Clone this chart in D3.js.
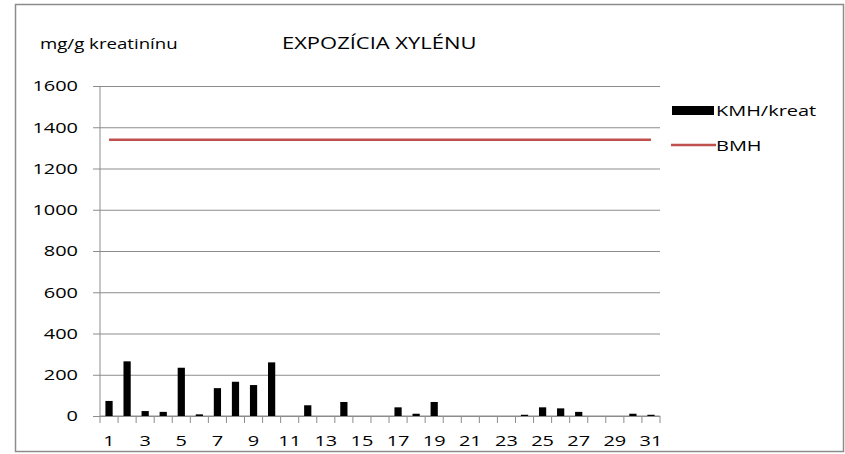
<!DOCTYPE html>
<html>
<head>
<meta charset="utf-8">
<script src="https://cdn.jsdelivr.net/npm/d3@7"></script>
<style>
  body { margin: 0; background: #fff; }
  text { font-family: "Open Sans", "Liberation Sans", sans-serif; fill: #000; }
</style>
</head>
<body>
<svg id="chart"></svg>
<script>
'use strict';

// days of the month
const days = d3.range(1, 32);
// KMH/kreat, mg/g kreatinínu
const kmh = [73, 265, 24, 20, 234, 8, 135, 166, 150, 260,
             0, 52, 0, 68, 0, 0, 42, 11, 68, 0,
             0, 0, 0, 6, 42, 37, 20, 0, 0, 11, 6];
// BMH limit
const bmh = 1340;
const yTicks = [0, 200, 400, 600, 800, 1000, 1200, 1400, 1600];

const W = 845, H = 454;
const margin = { top: 86, left: 100, bottom: 38, right: 185 };
const width = W - margin.left - margin.right;
const height = H - margin.top - margin.bottom;

// the original font is rendered wide, stretch text horizontally
const STRETCH = 1.33;
function stretch(sel) {
  sel.each(function() {
    const len = this.getComputedTextLength();
    d3.select(this)
        .attr('textLength', len * STRETCH)
        .attr('lengthAdjust', 'spacingAndGlyphs');
  });
}

const svg = d3.select('#chart')
    .attr('width', W)
    .attr('height', H);

// outer frame
svg.append('rect')
    .attr('x', 15.5).attr('y', 4.5)
    .attr('width', 828).attr('height', 447)
    .attr('fill', 'none')
    .attr('stroke', '#8c8c8c')
    .attr('stroke-width', 1.5);

const graph = svg.append('g')
    .attr('transform', `translate(${margin.left}, ${margin.top})`);

const x = d3.scaleBand()
    .domain(days)
    .range([0, width])
    .paddingInner(0.6)
    .paddingOuter(0.3);

const xPoint = d3.scalePoint()
    .domain(days)
    .range([0, width])
    .padding(0.5);

const y = d3.scaleLinear()
    .domain([0, 1600])
    .range([height, 0]);

// grid + y axis
const yAxis = d3.axisLeft(y)
    .tickValues(yTicks)
    .tickFormat(d3.format('d'))
    .tickSize(-width)
    .tickPadding(22);

const gy = graph.append('g')
    .attr('class', 'y-axis')
    .call(yAxis);
gy.select('.domain').remove();
gy.selectAll('.tick line')
    .attr('stroke', '#8c8c8c')
    .attr('x1', -7);
gy.selectAll('.tick text')
    .style('font-size', '15px')
    .call(stretch);

graph.append('line')
    .attr('x1', 0).attr('x2', 0)
    .attr('y1', 0).attr('y2', height)
    .attr('stroke', '#8c8c8c');

// x axis: ticks between categories, labels on odd days
const step = width / days.length;
const gx = graph.append('g')
    .attr('transform', `translate(0, ${height})`);
gx.append('line')
    .attr('x1', 0).attr('x2', width)
    .attr('stroke', '#8c8c8c');
gx.selectAll('line.tk')
    .data(d3.range(0, days.length + 1))
    .enter().append('line')
    .attr('class', 'tk')
    .attr('x1', d => d * step).attr('x2', d => d * step)
    .attr('y1', 0).attr('y2', 7)
    .attr('stroke', '#8c8c8c');
gx.selectAll('text')
    .data(days.filter(d => d % 2 === 1))
    .enter().append('text')
    .attr('x', d => xPoint(d))
    .attr('y', 30)
    .attr('text-anchor', 'middle')
    .style('font-size', '15px')
    .text(d => d)
    .call(stretch);

// bars
graph.append('g')
    .attr('fill', '#000')
    .selectAll('rect')
    .data(days)
    .enter().append('rect')
    .attr('x', d => xPoint(d) - x.bandwidth() / 2)
    .attr('y', (d, i) => y(kmh[i]))
    .attr('width', x.bandwidth())
    .attr('height', (d, i) => height - y(kmh[i]));

// BMH line
const line = d3.line()
    .x(d => xPoint(d))
    .y(() => y(bmh));
graph.append('path')
    .datum(days)
    .attr('d', line)
    .attr('fill', 'none')
    .attr('stroke', '#c0504d')
    .attr('stroke-width', 2.5);

// titles
svg.append('text')
    .attr('x', 40).attr('y', 49)
    .style('font-size', '14px')
    .text('mg/g kreatinínu')
    .call(stretch);

svg.append('text')
    .attr('x', 282).attr('y', 49)
    .style('font-size', '16.5px')
    .text('EXPOZÍCIA XYLÉNU')
    .call(stretch);

// legend
const legend = svg.append('g');
legend.append('rect')
    .attr('x', 672).attr('y', 106)
    .attr('width', 42).attr('height', 9)
    .attr('fill', '#000');
legend.append('text')
    .attr('x', 716).attr('y', 116)
    .style('font-size', '15px')
    .text('KMH/kreat')
    .call(stretch);
legend.append('line')
    .attr('x1', 671).attr('x2', 716)
    .attr('y1', 145).attr('y2', 145)
    .attr('stroke', '#c0504d')
    .attr('stroke-width', 2.5);
legend.append('text')
    .attr('x', 716).attr('y', 151)
    .style('font-size', '15px')
    .text('BMH')
    .call(stretch);
</script>
</body>
</html>
